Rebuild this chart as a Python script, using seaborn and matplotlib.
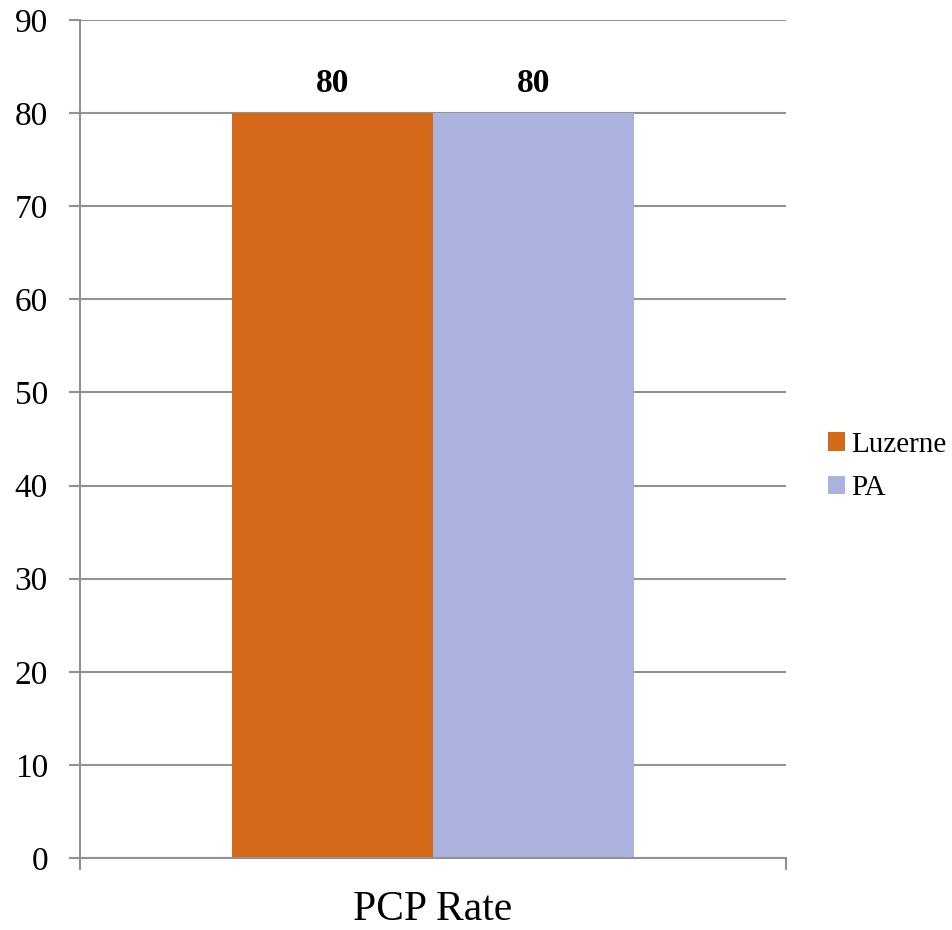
import matplotlib
matplotlib.use("Agg")
import matplotlib.pyplot as plt
import seaborn as sns
import pandas as pd

categories = ["PCP Rate"]
series = ["Luzerne", "PA"]
values = [80, 80]
colors = ["#D4691A", "#AAB2DD"]
yticks = [0, 10, 20, 30, 40, 50, 60, 70, 80, 90]

sns.set_theme(style="white")
plt.rcParams['font.family'] = ['Liberation Serif', 'DejaVu Serif']
plt.rcParams['text.color'] = 'black'
plt.rcParams['axes.labelcolor'] = 'black'

df = pd.DataFrame({"cat": categories * len(series), "series": series, "value": values})

fig = plt.figure(figsize=(9.52, 9.3), dpi=100)
ax = fig.add_axes([80/952, 1 - 858/930, (786-80)/952, (858-20)/930])

sns.barplot(data=df, x="cat", y="value", hue="series", palette=colors,
            width=0.57, dodge=True, saturation=1, ax=ax, legend=True,
            linewidth=0, edgecolor="none")

grey = "#929292"
ax.set_ylim(0, 90)
ax.set_xlim(-0.5, 0.5)
ax.set_yticks(yticks)
ax.set_yticklabels([str(t) for t in yticks], fontsize=24)
ax.set_xticks([-0.5, 0.5])
ax.set_xticklabels(["", ""])
ax.set_xlabel("")
ax.set_ylabel("")
ax.text(0, -0.074, categories[0], transform=ax.get_xaxis_transform(),
        ha="center", va="baseline", fontsize=30, color="black")

ax.grid(axis="y", color=grey, linewidth=1.5)
ax.set_axisbelow(True)
for s in ["top", "right"]:
    ax.spines[s].set_visible(False)
for s in ["left", "bottom"]:
    ax.spines[s].set_color(grey)
    ax.spines[s].set_linewidth(1.5)
ax.tick_params(axis="y", which="both", left=True, length=8, width=1.5, color=grey,
               pad=15, labelcolor="black")
ax.tick_params(axis="x", which="both", bottom=True, length=8.6, width=1.5, color=grey)

for c in ax.containers:
    ax.bar_label(c, labels=[f"{v:.0f}" for v in c.datavalues], padding=10,
                 fontsize=24, fontweight="bold", color="black")

handles, labels = ax.get_legend_handles_labels()
leg = ax.legend(handles, labels, loc="center left", bbox_to_anchor=(1.0595, 0.467),
                frameon=False, fontsize=21, handlelength=0.59, handleheight=0.59,
                handletextpad=0.2, labelspacing=0.6, borderaxespad=0, borderpad=0)
for t in leg.get_texts():
    t.set_color("black")

fig.savefig("out.png", dpi=100)
